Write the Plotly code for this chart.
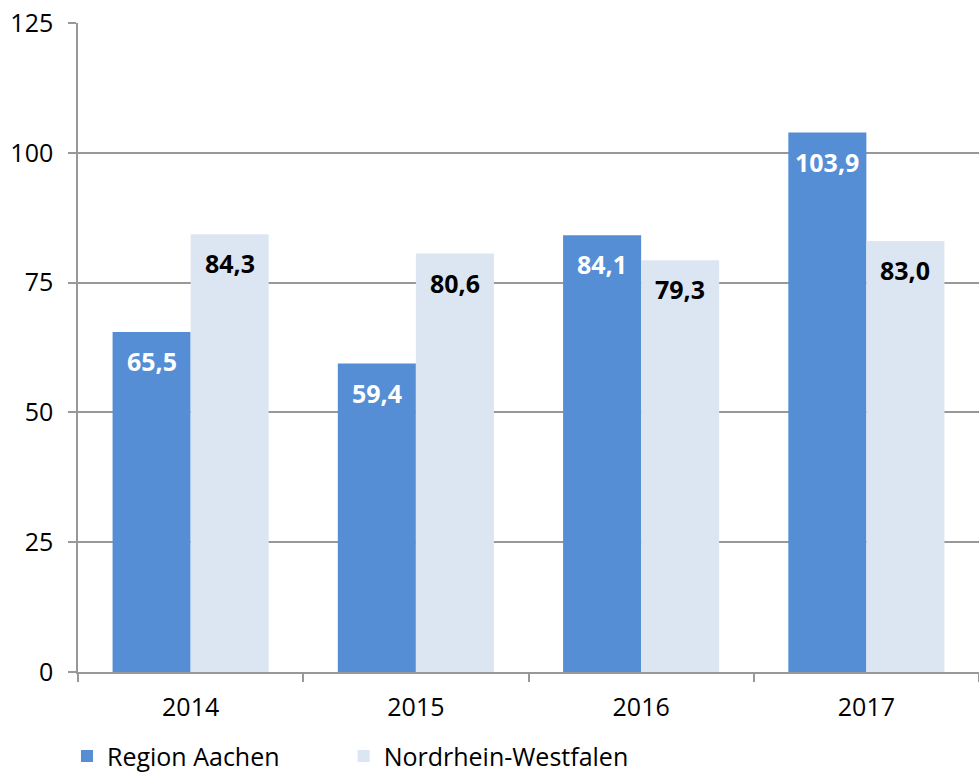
import plotly.graph_objects as go

years = ["2014", "2015", "2016", "2017"]
region_aachen = [65.5, 59.4, 84.1, 103.9]
nrw = [84.3, 80.6, 79.3, 83.0]
y_ticks = [0, 25, 50, 75, 100, 125]

BLUE = "#558ED5"
LIGHT = "#DCE6F2"
GRID = "#989898"
FONT = "Open Sans"
BAR_PX = 78  # width of one bar in pixels at this figure size

fig = go.Figure()
fig.add_trace(go.Bar(
    x=years, y=region_aachen, name="Region Aachen",
    marker=dict(color=BLUE, line=dict(width=0)), legend="legend",
))
fig.add_trace(go.Bar(
    x=years, y=nrw, name="Nordrhein-Westfalen",
    marker=dict(color=LIGHT, line=dict(width=0)), legend="legend2",
))

# value labels sit inside the top of each bar
def fmt(v):
    return f"{v:.1f}".replace(".", ",")

for vals, side, color in ((region_aachen, -1, "white"), (nrw, 1, "black")):
    for i, v in enumerate(vals):
        fig.add_annotation(
            x=i, y=v, text=fmt(v), showarrow=False,
            xanchor="center", yanchor="middle",
            xshift=side * BAR_PX / 2, yshift=-29,
            font=dict(family=FONT, size=25, color=color, weight="bold"),
        )

legend_style = dict(orientation="h", xref="container", yref="container",
                    xanchor="left", y=0.054, yanchor="top",
                    font=dict(family=FONT, size=25, color="black"), itemwidth=30)

fig.update_layout(
    width=979, height=775,
    margin=dict(l=78, r=0, t=23, b=103, autoexpand=False),
    paper_bgcolor="white", plot_bgcolor="white",
    barmode="group", bargap=0.307, bargroupgap=0,
    font=dict(family=FONT, size=25, color="black"),
    showlegend=True,
    legend=dict(x=0.0684, **legend_style),
    legend2=dict(x=0.351, **legend_style),
)
fig.update_xaxes(
    type="category", range=[-0.5, len(years) - 0.5],
    showline=True, linecolor=GRID, linewidth=1.5,
    ticks="outside", tickson="boundaries", ticklen=8, tickcolor=GRID, tickwidth=1.5,
    showgrid=False, ticklabelstandoff=12,
    tickfont=dict(family=FONT, size=25, color="black"),
)
fig.update_yaxes(
    range=[0, 125], tickvals=y_ticks,
    showline=True, linecolor=GRID, linewidth=1.5,
    ticks="outside", ticklen=8, tickcolor=GRID, tickwidth=1.5,
    showgrid=True, gridcolor=GRID, gridwidth=1.5, zeroline=False,
    ticklabelstandoff=10,
    tickfont=dict(family=FONT, size=25, color="black"),
)

fig.write_html("out.html")
